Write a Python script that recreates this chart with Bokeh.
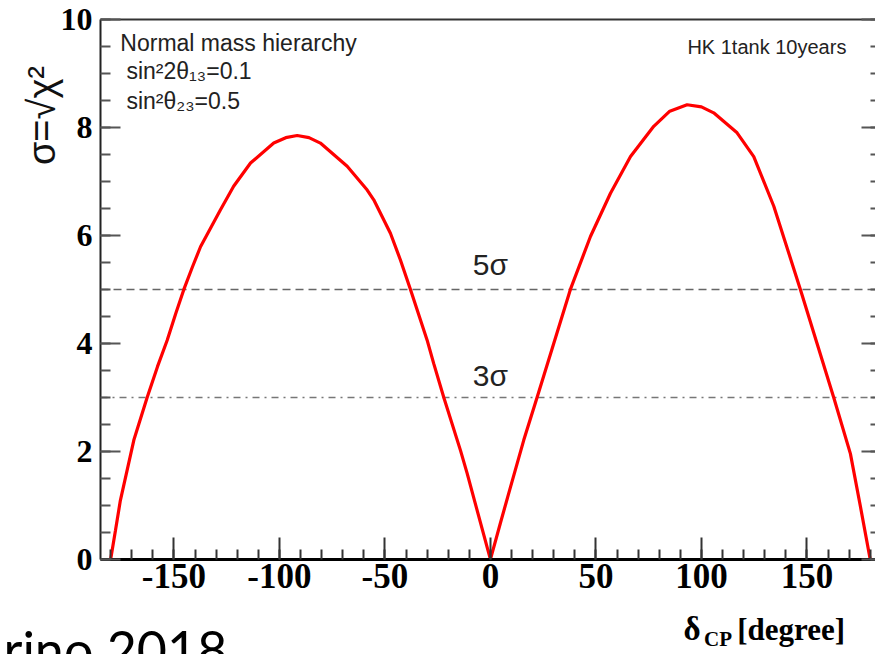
import math
from bokeh.plotting import figure
from bokeh.models import Range1d, LinearAxis, SingleIntervalTicker, FixedTicker
from bokeh.core.properties import value
from bokeh.embed import file_html
from bokeh.resources import INLINE

# ---- data ----
delta_cp = [-180, -177.7, -175.4, -169, -162.7, -157.8, -153.2, -149.1, -145.3, -141.2,
            -137.4, -128, -121.7, -113.7, -102.7, -97, -91.6, -86, -80.6, -67.9,
            -58.4, -55.3, -47.4, -42.7, -37.9, -30, -26.9, -22.1, -14.2, -11, -6.3,
            0, 4.7, 9.5, 15.8, 22.1, 30, 37.9, 47.4, 56.9, 66.4,
            77.4, 85, 93.2, 100, 105.8, 116.9, 124.8, 134.3, 146.9, 154.8, 162.7,
            170.6, 175.4, 180]
sigma = [0, 0.54, 1.09, 2.21, 3.0, 3.57, 4.06, 4.56, 5.0, 5.42,
         5.79, 6.47, 6.91, 7.34, 7.71, 7.81, 7.85, 7.81, 7.71, 7.28,
         6.84, 6.66, 6.04, 5.55, 5.0, 4.06, 3.63, 3.0, 2.02, 1.59, 0.91,
         0, 0.67, 1.34, 2.21, 3.0, 4.0, 5.0, 5.98, 6.78, 7.46,
         8.02, 8.30, 8.42, 8.38, 8.27, 7.90, 7.46, 6.54, 5.0, 4.0, 3.0,
         1.96, 0.97, 0]
sigma_levels = [5, 3]
sigma_level_labels = ["5σ", "3σ"]
x_tick_values = [-150, -100, -50, 0, 50, 100, 150]
x_tick_labels = ["-150", "-100", "-50", "0", "50", "100", "150"]
info_lines = ["Normal mass hierarchy", "sin²2θ₁₃=0.1", "sin²θ₂₃=0.5"]
exp_label = "HK 1tank 10years"

# plot box (data limits of the drawn frame)
X_LO, X_HI = -184.8, 182.5
Y_LO, Y_HI = 0, 10

SERIF = "Liberation Serif"
SANS = "Liberation Sans"

p = figure(width=875, height=654, output_backend="svg", toolbar_location=None,
           x_range=Range1d(-232.2, 182.5), y_range=Range1d(-1.76, 10.35),
           x_axis_type=None, y_axis_type=None, min_border=0)
p.outline_line_color = None
p.background_fill_color = "white"
p.border_fill_color = "white"
p.xgrid.visible = False
p.ygrid.visible = False

# bottom axis
xa = LinearAxis(ticker=SingleIntervalTicker(interval=50, num_minor_ticks=5),
                fixed_location=Y_LO, bounds=(X_LO, X_HI))
xa.axis_line_color = "black"
xa.axis_line_width = 3
xa.major_tick_in = 22
xa.major_tick_out = 0
xa.minor_tick_in = 10
xa.minor_tick_out = 0
xa.major_tick_line_color = "#333333"
xa.major_tick_line_width = 2
xa.minor_tick_line_color = "#333333"
xa.minor_tick_line_width = 2
xa.major_label_overrides = dict(zip(x_tick_values, x_tick_labels))
xa.major_label_text_font = SERIF
xa.major_label_text_font_style = "bold"
xa.major_label_text_font_size = "35px"
xa.major_label_text_color = "black"
xa.major_label_standoff = 5
p.add_layout(xa, "below")

# left axis
ya = LinearAxis(ticker=SingleIntervalTicker(interval=2, num_minor_ticks=4),
                fixed_location=X_LO, bounds=(Y_LO, Y_HI))
ya.axis_line_color = "#222222"
ya.axis_line_width = 2
ya.major_tick_in = 20
ya.major_tick_out = 0
ya.minor_tick_in = 10
ya.minor_tick_out = 0
ya.major_tick_line_color = "#555555"
ya.major_tick_line_width = 2
ya.minor_tick_line_color = "#555555"
ya.minor_tick_line_width = 2
ya.major_label_text_font = SERIF
ya.major_label_text_font_style = "bold"
ya.major_label_text_font_size = "32px"
ya.major_label_text_color = "black"
ya.major_label_standoff = 8
p.add_layout(ya, "left")

# top frame line
ta = LinearAxis(ticker=FixedTicker(ticks=[]), fixed_location=Y_HI, bounds=(X_LO, X_HI))
ta.axis_line_color = "#333333"
ta.axis_line_width = 2
ta.major_tick_in = 0
ta.major_tick_out = 0
ta.minor_tick_in = 0
ta.minor_tick_out = 0
p.add_layout(ta, "above")

# right ticks (frame edge cut by the picture)
ra = LinearAxis(ticker=SingleIntervalTicker(interval=2, num_minor_ticks=4),
                fixed_location=X_HI, bounds=(Y_LO, Y_HI))
ra.axis_line_color = None
ra.major_tick_in = 14
ra.major_tick_out = 0
ra.minor_tick_in = 5
ra.minor_tick_out = 0
ra.major_tick_line_color = "#555555"
ra.major_tick_line_width = 2
ra.minor_tick_line_color = "#555555"
ra.minor_tick_line_width = 2
ra.major_label_text_font_size = "0px"
ra.major_label_text_alpha = 0
p.add_layout(ra, "right")

# sigma reference lines
p.line([X_LO, X_HI], [sigma_levels[0]] * 2, line_color="#666666", line_width=1.6,
       line_dash="8 5")
p.line([X_LO, X_HI], [sigma_levels[1]] * 2, line_color="#777777", line_width=1.6,
       line_dash="7 5 2 5")

p.text(x=[0, 0], y=[sigma_levels[0] + 0.47, sigma_levels[1] + 0.40],
       text=sigma_level_labels, text_font=value(SANS), text_font_size="30px",
       text_align="center", text_baseline="alphabetic", text_color="#222222")

# the sensitivity curve
p.line(delta_cp, sigma, line_color="#ff0000", line_width=3.2)

# info texts
p.text(x=[-175.4, -172.5, -172.5], y=[9.57, 9.05, 8.49], text=info_lines,
       text_font=value(SANS), text_font_size="23px", text_align="left",
       text_baseline="alphabetic", text_color="#222222")
p.text(x=[168.7], y=[9.49], text=[exp_label], text_font=value(SANS),
       text_font_size="20px", text_align="right", text_baseline="alphabetic",
       text_color="#222222")

# axis titles
p.text(x=[-212.5], y=[8.22], text=["σ=√χ²"], angle=math.pi / 2,
       text_font=value(SANS), text_font_size="38px", text_align="center",
       text_baseline="alphabetic", text_color="#111111")
p.text(x=[91.5], y=[-1.28], text=["δ"], text_font=value(SERIF),
       text_font_style="bold", text_font_size="33px", text_align="left",
       text_baseline="alphabetic", text_color="black")
p.text(x=[101.2], y=[-1.47], text=["CP"], text_font=value(SERIF),
       text_font_style="bold", text_font_size="21px", text_align="left",
       text_baseline="alphabetic", text_color="black")
p.text(x=[117.0], y=[-1.29], text=["[degree]"], text_font=value(SERIF),
       text_font_style="bold", text_font_size="31px", text_align="left",
       text_baseline="alphabetic", text_color="black")

# slide text cut at the bottom edge
p.text(x=[-230.8], y=[-1.65], text=["rino 2018"], text_font=value("Lato"),
       text_font_size="52px", text_align="left", text_baseline="alphabetic",
       text_color="black")

open("out.html", "w").write(file_html(p, INLINE))
